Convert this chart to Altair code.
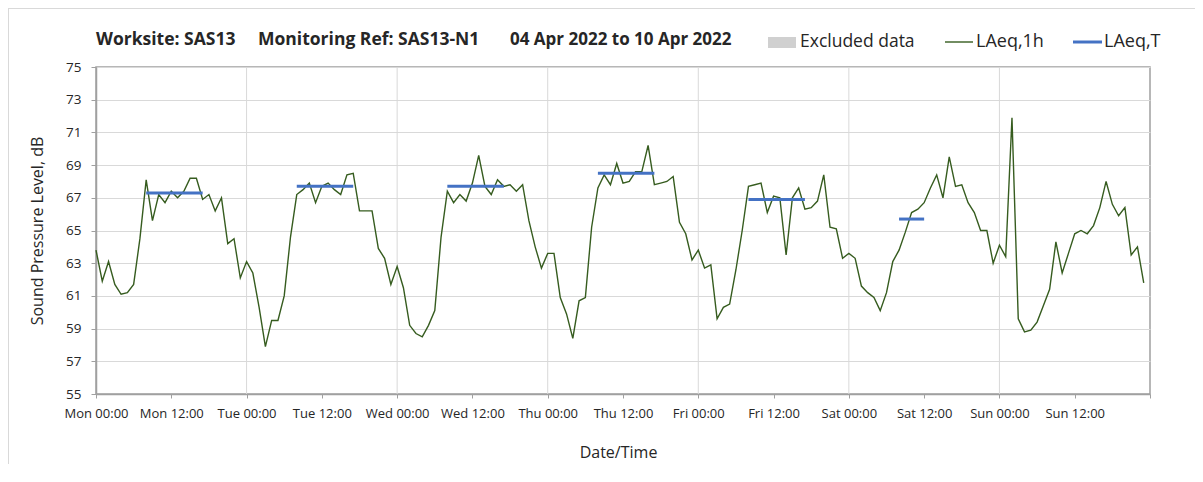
import altair as alt
import pandas as pd

# ---------------- data ----------------
laeq_1h = [
    63.8, 61.9, 63.1, 61.7, 61.1, 61.2, 61.7, 64.5, 68.1, 65.6, 67.2, 66.7,
    67.4, 67.0, 67.4, 68.2, 68.2, 66.9, 67.2, 66.2, 67.0, 64.2, 64.5, 62.1,
    63.1, 62.4, 60.3, 57.9, 59.5, 59.5, 61.0, 64.6, 67.2, 67.5, 67.9, 66.7,
    67.7, 67.9, 67.5, 67.2, 68.4, 68.5, 66.2, 66.2, 66.2, 63.9, 63.3, 61.7,
    62.8, 61.5, 59.2, 58.7, 58.5, 59.2, 60.1, 64.6, 67.4, 66.7, 67.2, 66.8,
    67.9, 69.6, 67.7, 67.2, 68.1, 67.7, 67.8, 67.4, 67.8, 65.6, 64.0, 62.7,
    63.6, 63.6, 60.9, 59.9, 58.4, 60.7, 60.9, 65.2, 67.6, 68.4, 67.8, 69.1,
    67.9, 68.0, 68.6, 68.6, 70.2, 67.8, 67.9, 68.0, 68.3, 65.5, 64.8, 63.2,
    63.8, 62.7, 62.9, 59.6, 60.3, 60.5, 62.6, 65.0, 67.7, 67.8, 67.9, 66.1,
    67.1, 67.0, 63.5, 67.0, 67.6, 66.3, 66.4, 66.8, 68.4, 65.2, 65.1, 63.3,
    63.6, 63.3, 61.6, 61.2, 60.9, 60.1, 61.2, 63.1, 63.8, 64.9, 66.1, 66.3,
    66.7, 67.6, 68.4, 67.0, 69.5, 67.7, 67.8, 66.7, 66.1, 65.0, 65.0, 63.0,
    64.1, 63.4, 71.9, 59.6, 58.8, 58.9, 59.4, 60.4, 61.4, 64.3, 62.4, 63.6,
    64.8, 65.0, 64.8, 65.3, 66.4, 68.0, 66.6, 65.9, 66.4, 63.5, 64.0, 61.8,
]
hours = list(range(len(laeq_1h)))

seg_start = [8, 32, 56, 80, 104, 128]
seg_end = [17, 41, 65, 89, 113, 132]
seg_value = [67.3, 67.7, 67.7, 68.5, 66.9, 65.7]

days = ["Mon", "Tue", "Wed", "Thu", "Fri", "Sat", "Sun"]
tick_hours = list(range(0, 169, 12))
tick_labels = [f"{d} {t}" for d in days for t in ("00:00", "12:00")] + [""]
grid_hours = [24, 48, 72, 96, 120, 144]
y_ticks = list(range(55, 76, 2))

title_parts = ["Worksite: SAS13", "Monitoring Ref: SAS13-N1", "04 Apr 2022 to 10 Apr 2022"]
legend_labels = ["Excluded data", "LAeq,1h", "LAeq,T"]
x_title = "Date/Time"
y_title = "Sound Pressure Level, dB"

# ---------------- styling ----------------
FONT = "Open Sans"
W, H = 1054, 327
GREEN = "#365c1f"
BLUE = "#4472c4"
AXIS_GREY = "#a0a0a0"
GRID_GREY = "#d9d9d9"
TEXT = "#262626"

df = pd.DataFrame({"hour": hours, "laeq": laeq_1h})
seg_df = pd.DataFrame({"start": seg_start, "end": seg_end, "value": seg_value})
grid_df = pd.DataFrame({"h": grid_hours})

x_scale = alt.Scale(domain=[0, 168], nice=False, zero=False)
y_scale = alt.Scale(domain=[55, 75], nice=False, zero=False)

label_expr = "[" + ",".join(f"'{l}'" for l in tick_labels) + "][round(datum.value / 12)]"

x_axis = alt.Axis(
    values=tick_hours, labelExpr=label_expr, title=x_title, grid=False,
    domainColor=AXIS_GREY, domainWidth=1.5, tickColor=AXIS_GREY, tickSize=4,
    labelFont=FONT, labelFontSize=13, labelColor=TEXT, labelPadding=9,
    labelFlush=False, labelOverlap=False,
    titleFont=FONT, titleFontSize=16, titleFontWeight="normal", titleColor=TEXT,
    titleX=522, titleY=58, titleBaseline="middle",
)
y_axis = alt.Axis(
    values=y_ticks, title=y_title, grid=True, gridColor=GRID_GREY, gridWidth=1,
    domainColor=AXIS_GREY, domainWidth=1.5, tickColor=AXIS_GREY, tickSize=5,
    labelFont=FONT, labelFontSize=13.5, labelColor=TEXT, labelPadding=10,
    labelFlush=False, labelOverlap=False,
    titleFont=FONT, titleFontSize=16, titleFontWeight="normal", titleColor=TEXT,
    titleX=-59, titleY=H / 2, titleAngle=-90, titleBaseline="middle", titleAlign="center",
)

one = alt.Data(values=[{}])

# outer chart-area frame: only its top and left edges fall inside the window
frame_top = alt.Chart(one).mark_rule(color=GRID_GREY, strokeWidth=1).encode(
    x=alt.value(-88), x2=alt.value(1100), y=alt.value(-58.5)
)
frame_left = alt.Chart(one).mark_rule(color=GRID_GREY, strokeWidth=1).encode(
    x=alt.value(-87.5), y=alt.value(-59), y2=alt.value(420)
)

vgrid = alt.Chart(grid_df).mark_rule(color=GRID_GREY, strokeWidth=1).encode(
    x=alt.X("h:Q", scale=x_scale, axis=x_axis)
)

line = alt.Chart(df).mark_line(color=GREEN, strokeWidth=1.4).encode(
    x=alt.X("hour:Q", scale=x_scale, axis=x_axis),
    y=alt.Y("laeq:Q", scale=y_scale, axis=y_axis),
)

segs = alt.Chart(seg_df).mark_rule(color=BLUE, strokeWidth=3, strokeCap="butt").encode(
    x=alt.X("start:Q", scale=x_scale, axis=x_axis),
    x2="end:Q",
    y=alt.Y("value:Q", scale=y_scale, axis=y_axis),
)

def txt(s, x, y, size, weight="normal"):
    return alt.Chart(one).mark_text(
        font=FONT, fontSize=size, fontWeight=weight, color=TEXT,
        align="left", baseline="middle",
    ).encode(x=alt.value(x), y=alt.value(y), text=alt.value(s))

title_layers = [
    txt(title_parts[0], 0, -27, 17.5, "bold"),
    txt(title_parts[1], 162, -27, 17.5, "bold"),
    txt(title_parts[2], 414, -27, 17, "bold"),
]

leg_swatch = alt.Chart(one).mark_rect(color="#d0d0d0").encode(
    x=alt.value(672), x2=alt.value(700), y=alt.value(-30), y2=alt.value(-19)
)
leg_green = alt.Chart(one).mark_rule(color=GREEN, strokeWidth=1.4).encode(
    x=alt.value(849), x2=alt.value(877), y=alt.value(-25)
)
leg_blue = alt.Chart(one).mark_rule(color=BLUE, strokeWidth=3).encode(
    x=alt.value(977), x2=alt.value(1006), y=alt.value(-25)
)
legend_layers = [
    leg_swatch, txt(legend_labels[0], 704, -25, 17.5),
    leg_green, txt(legend_labels[1], 880, -25, 18),
    leg_blue, txt(legend_labels[2], 1008, -25, 18),
]

chart = alt.layer(
    frame_top, frame_left, vgrid, line, segs, *title_layers, *legend_layers
).properties(
    width=W, height=H,
    padding={"left": 88, "top": 59, "right": 45, "bottom": 70},
    autosize=alt.AutoSizeParams(type="none"),
    background="white",
).configure_view(
    stroke=AXIS_GREY, strokeWidth=1.5
)

chart.save("out.html", embed_options={"renderer": "svg", "actions": False})
